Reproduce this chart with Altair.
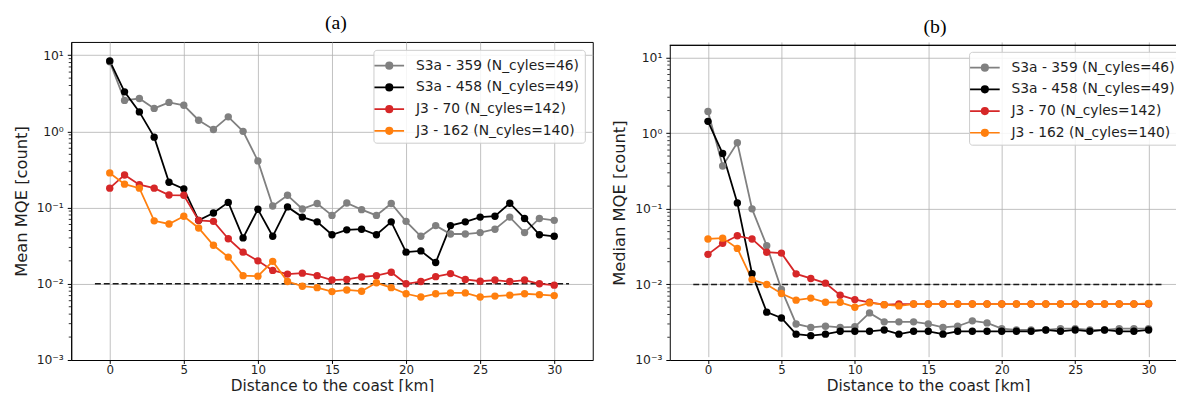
import altair as alt
import pandas as pd

# ---------------- data ----------------
km = list(range(31))

series_names = [
    "S3a - 359 (N_cyles=46)",
    "S3a - 458 (N_cyles=49)",
    "J3 - 70 (N_cyles=142)",
    "J3 - 162 (N_cyles=140)",
]
series_colors = ["#808080", "#000000", "#d62728", "#ff7f0e"]

mean_s3a_359 = [8.2, 2.55, 2.7, 2.0, 2.4, 2.2, 1.4, 1.06, 1.55, 1.0, 0.41, 0.105, 0.145, 0.096,
                0.113, 0.079, 0.115, 0.094, 0.079, 0.113, 0.066, 0.042, 0.058, 0.045, 0.045,
                0.047, 0.052, 0.075, 0.047, 0.072, 0.068]
mean_s3a_458 = [8.4, 3.3, 1.8, 0.84, 0.215, 0.176, 0.068, 0.085, 0.117, 0.040, 0.095, 0.042,
                0.102, 0.075, 0.065, 0.044, 0.051, 0.052, 0.044, 0.065, 0.026, 0.027, 0.019,
                0.058, 0.065, 0.075, 0.077, 0.114, 0.072, 0.044, 0.042]
mean_j3_70 = [0.18, 0.268, 0.2, 0.18, 0.146, 0.145, 0.068, 0.066, 0.039, 0.026, 0.020, 0.015,
              0.0134, 0.0138, 0.0128, 0.0112, 0.0114, 0.0123, 0.0128, 0.0142, 0.010, 0.0107,
              0.0124, 0.0136, 0.0114, 0.0108, 0.0112, 0.0107, 0.0112, 0.010, 0.0096]
mean_j3_162 = [0.285, 0.203, 0.18, 0.067, 0.061, 0.077, 0.054, 0.032, 0.0224, 0.0128, 0.0126,
               0.0197, 0.0107, 0.0093, 0.0089, 0.0079, 0.0083, 0.008, 0.0103, 0.0089, 0.0074,
               0.0067, 0.0074, 0.0076, 0.0076, 0.0067, 0.0069, 0.0071, 0.0074, 0.0072, 0.0070]

med_s3a_359 = [1.94, 0.37, 0.75, 0.10, 0.0326, 0.0086, 0.0030, 0.0027, 0.0028, 0.0027, 0.00275,
               0.0042, 0.0032, 0.0032, 0.0032, 0.0030, 0.0027, 0.0028, 0.0033, 0.0031, 0.0026,
               0.0025, 0.0025, 0.0025, 0.0026, 0.0026, 0.0025, 0.0025, 0.0026, 0.0026, 0.0026]
med_s3a_458 = [1.44, 0.54, 0.12, 0.0139, 0.0043, 0.0036, 0.0022, 0.0021, 0.0022, 0.0024, 0.0024,
               0.0024, 0.0025, 0.0022, 0.0024, 0.0024, 0.0022, 0.0024, 0.0024, 0.0024, 0.0024,
               0.0024, 0.0024, 0.0025, 0.0024, 0.0025, 0.0024, 0.0025, 0.0024, 0.0024, 0.0025]
med_j3_70 = [0.025, 0.035, 0.044, 0.040, 0.0267, 0.026, 0.0138, 0.012, 0.0104, 0.0072, 0.0063,
             0.0058, 0.0054, 0.0055, 0.0055, 0.0055, 0.0055, 0.0055, 0.0055, 0.0055, 0.0055,
             0.0055, 0.0055, 0.0055, 0.0055, 0.0055, 0.0055, 0.0055, 0.0055, 0.0055, 0.0055]
med_j3_162 = [0.040, 0.041, 0.030, 0.0116, 0.010, 0.0076, 0.0062, 0.0066, 0.0058, 0.0058, 0.0050,
              0.0057, 0.0054, 0.0052, 0.0055, 0.0055, 0.0055, 0.0055, 0.0055, 0.0055, 0.0055,
              0.0055, 0.0055, 0.0055, 0.0055, 0.0055, 0.0055, 0.0055, 0.0055, 0.0055, 0.0056]

threshold_km = [-1, 31]
threshold_val = [0.01, 0.01]

x_ticks = [0, 5, 10, 15, 20, 25, 30]
y_ticks = [0.001, 0.01, 0.1, 1, 10]
y_tick_labels = ["10⁻³", "10⁻²", "10⁻¹", "10⁰", "10¹"]
minor_ticks = [m * d for d in [0.001, 0.01, 0.1, 1] for m in range(2, 10)]


def long_table(arrays):
    rows = []
    for name, vals in zip(series_names, arrays):
        for k, v in zip(km, vals):
            rows.append({"km": k, "value": v, "series": name})
    return pd.DataFrame(rows)


mean_df = long_table([mean_s3a_359, mean_s3a_458, mean_j3_70, mean_j3_162])
med_df = long_table([med_s3a_359, med_s3a_458, med_j3_70, med_j3_162])
thr_df = pd.DataFrame({"km": threshold_km, "value": threshold_val})
minor_df = pd.DataFrame({"value": minor_ticks})

FONT = "DejaVu Sans"
TXT = "#1e1e1e"
label_expr = " : ".join(
    f"datum.value < {v * 1.5} ? '{l}'" for v, l in zip(y_ticks[:-1], y_tick_labels[:-1])
) + f" : '{y_tick_labels[-1]}'"

LEG_PATH = "M-1.5,0L1.5,0M0.33,0A0.33,0.33,0,1,1,-0.33,0A0.33,0.33,0,1,1,0.33,0Z"


def panel(df, ytitle, width, xdom, ydom, yrange, height, title, title_dx, title_offset,
          legx, legy, right_open):
    legend = alt.Legend(
        orient="none", legendX=legx, legendY=legy, title=None,
        symbolType=LEG_PATH, symbolSize=400, symbolStrokeWidth=1.6,
        labelFont=FONT, labelFontSize=14, labelColor=TXT, labelOffset=16,
        fillColor="rgba(255,255,255,0.85)", strokeColor="#cccccc", cornerRadius=3,
        padding=5, rowPadding=4, labelLimit=400,
    )
    cscale = alt.Scale(domain=series_names, range=series_colors)
    xenc = alt.X(
        "km:Q",
        scale=alt.Scale(domain=xdom, nice=False, zero=False),
        axis=alt.Axis(values=x_ticks, title="Distance to the coast [km]", labelFlush=False,
                      tickSize=3.5, labelFontSize=12, labelPadding=1, titlePadding=3,
                      titleFontSize=15.5),
    )
    yscale = alt.Scale(type="log", domain=ydom, nice=False, **({"range": yrange} if yrange else {}))
    yenc = alt.Y(
        "value:Q", scale=yscale,
        axis=alt.Axis(values=y_ticks, labelExpr=label_expr, title=ytitle, labelFlush=False,
                      labelPadding=4, titlePadding=7),
    )
    base = alt.Chart(df)
    lines = base.mark_line(strokeWidth=1.8).encode(
        x=xenc, y=yenc, stroke=alt.Stroke("series:N", scale=cscale, legend=legend),
        order="km:Q",
    )
    points = base.mark_point(filled=True, size=56, opacity=1).encode(
        x="km:Q", y="value:Q", fill=alt.Fill("series:N", scale=cscale, legend=legend),
    )
    thr = alt.Chart(thr_df).mark_line(
        color="#1a1a1a", strokeWidth=1.5, strokeDash=[6, 3]
    ).encode(x="km:Q", y="value:Q")
    minor = alt.Chart(minor_df).mark_rule(color="#000000", strokeWidth=0.8).encode(
        y="value:Q", x=alt.value(-2.5), x2=alt.value(0)
    )
    layers = [thr, lines, points, minor]
    if right_open:
        top = alt.Chart(thr_df).mark_rule(color="#000000", strokeWidth=1).encode(
            x=alt.value(0), x2=alt.value(width), y=alt.value(yrange[1])
        )
        layers.append(top)
    ch = alt.layer(*layers).properties(
        width=width, height=height,
        title=alt.TitleParams(
            title, font="Liberation Serif", fontSize=20, fontWeight="normal", color="#000000",
            anchor="middle", offset=title_offset, dx=title_dx,
        ),
    )
    if right_open:
        ch = ch.properties(view=alt.ViewBackground(stroke="transparent"))
    return ch


left = panel(mean_df, "Mean MQE [count]", 528, [-2.6, 32.6], [0.001, 14.9], None, 322,
             "(a)", 4, 9, 306, 8, False)
right_w = 523
right = panel(med_df, "Median MQE [count]", right_w, [-2.6, -2.6 + right_w / 14.87],
              [0.001, 14.6], [322, 3.4], 322, "(b)", 7, 5, 303, 10, True)

chart = alt.hconcat(left, right, spacing=17).resolve_scale(
    stroke="independent", fill="independent"
).resolve_legend(stroke="independent", fill="independent").configure(
    padding={"left": 4, "top": 2, "right": -11.5, "bottom": -5.5},
    font=FONT,
).configure_view(
    stroke="#000000", strokeWidth=1
).configure_axis(
    grid=True, gridColor="#b0b0b0", gridWidth=0.8,
    domainColor="#000000", domainWidth=1, tickColor="#000000", tickSize=4, tickWidth=1,
    labelFont=FONT, labelFontSize=12.5, labelColor=TXT,
    titleFont=FONT, titleFontSize=16.5, titleFontWeight="normal", titleColor=TXT,
)

chart.save("out.html", embed_options={"renderer": "svg", "actions": False})
